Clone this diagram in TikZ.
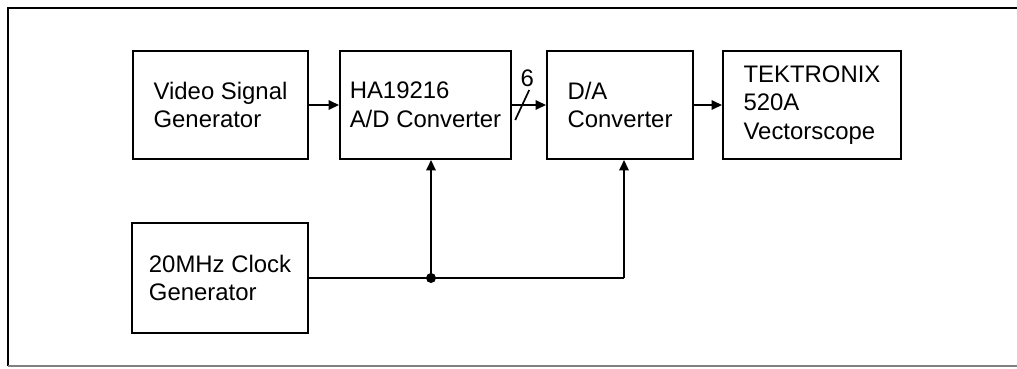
\documentclass[tikz,border=0pt]{standalone}
\usepackage{fontspec}
\setmainfont{Liberation Sans}
\usetikzlibrary{arrows.meta,calc,positioning}

\begin{document}
\begin{tikzpicture}[x=0.025cm,y=-0.025cm,>={Triangle[length=2.6mm,width=2.4mm]},
  blk/.style={draw,line width=1.5pt,inner sep=0pt,align=left,
    font=\fontsize{17}{20.5}\selectfont},
  wire/.style={line width=1.2pt}]
\useasboundingbox (0,0) rectangle (1017,368);
% ---- frame ----
\draw[line width=1pt] (1017,8) -- (8,8) -- (8,366);
\draw[line width=1pt,gray] (8,366) -- (1017,366);
% ---- blocks ----
\node[blk,minimum width=4.375cm,minimum height=2.7cm] (vsg) at (220.5,105)
  {Video Signal\\Generator};
\node[blk,minimum width=4.275cm,minimum height=2.7cm] (adc) at (425.5,105)
  {HA19216\\A/D Converter};
\node[blk,minimum width=3.65cm,minimum height=2.7cm] (dac) at (620,105)
  {D/A\\Converter};
\node[blk,minimum width=4.45cm,minimum height=2.7cm] (tek) at (812,105)
  {TEKTRONIX\\520A\\Vectorscope};
\node[blk,minimum width=4.4cm,minimum height=2.75cm] (clk) at (220,278)
  {20MHz Clock\\Generator};
% ---- signal path ----
\draw[wire,->] (vsg) -- (adc);
\draw[wire,->] (adc) -- (dac);
\draw[wire,->] (dac) -- (tek);
% bus width mark
\coordinate (bus) at ($(adc.east)!0.3!(dac.west)$);
\draw[wire] ($(bus)+(-7,15)$) -- ($(bus)+(7,-15)$);
\node[font=\fontsize{17}{20.5}\selectfont] (bw) at ($(bus)+(5,-27)$) {6};
% ---- clock distribution ----
\coordinate (jn) at (431,278);
\draw[wire] (clk) -- (jn) -- (624,278) coordinate (dk);
\draw[wire,->] (jn) -- (jn |- adc.south);
\draw[wire,->] (dk) -- (dk |- dac.south);
\fill (jn) circle (5);
\end{tikzpicture}
\end{document}
